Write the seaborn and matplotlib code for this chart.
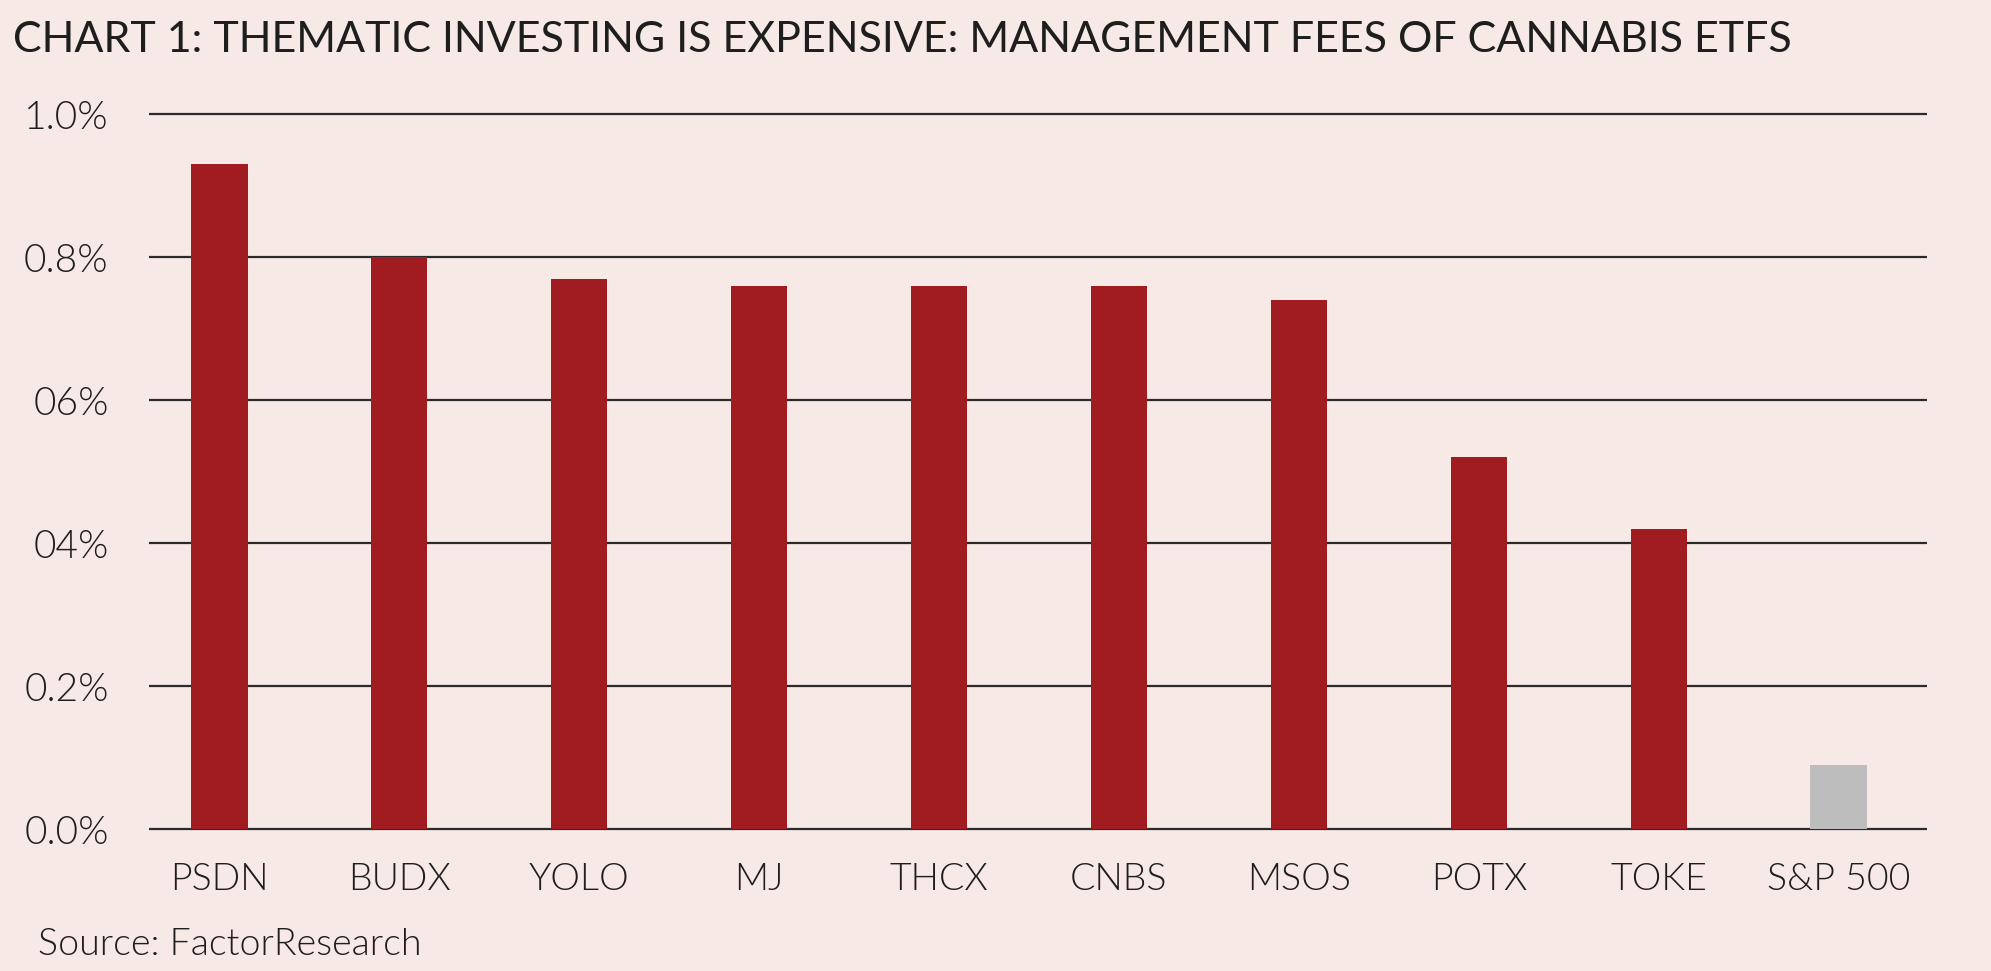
import matplotlib
matplotlib.use("Agg")
import matplotlib.pyplot as plt
import seaborn as sns
import pandas as pd

categories = ["PSDN", "BUDX", "YOLO", "MJ", "THCX", "CNBS", "MSOS", "POTX", "TOKE", "S&P 500"]
fees = [0.93, 0.80, 0.77, 0.76, 0.76, 0.76, 0.74, 0.52, 0.42, 0.09]
ytick_values = [0.0, 0.2, 0.4, 0.6, 0.8, 1.0]
ytick_labels = ["0.0%", "0.2%", "04%", "06%", "0.8%", "1.0%"]
title = "CHART 1: THEMATIC INVESTING IS EXPENSIVE: MANAGEMENT FEES OF CANNABIS ETFS"
source = "Source: FactorResearch"

BG = "#F6E9E6"
RED = "#A01C21"
GREY = "#BDBDBD"
TXT = "#1E1E1E"

sns.set_theme(style="white")
plt.rcParams['font.family'] = ['Lato', 'DejaVu Sans']

df = pd.DataFrame({"etf": categories, "fee": fees})
palette = [RED] * (len(categories) - 1) + [GREY]

fig = plt.figure(figsize=(19.91, 9.71), dpi=100, facecolor=BG)
ax = fig.add_axes([149 / 1991, 1 - 832.6 / 971, (1927 - 149) / 1991, 722 / 971])
ax.set_facecolor(BG)

sns.barplot(data=df, x="etf", y="fee", hue="etf", palette=palette, legend=False,
            width=0.315, saturation=1, ax=ax, zorder=3, linewidth=0, edgecolor="none")

ax.set_xlim(-0.39, 9.49)
ax.set_ylim(-0.005, 1.005)
ax.set_yticks(ytick_values)
ax.set_yticklabels(ytick_labels)
ax.yaxis.grid(True, color="#2B2B2B", linewidth=1.6, zorder=0)
ax.xaxis.grid(False)
ax.set_axisbelow(True)
for s in ax.spines.values():
    s.set_visible(False)
ax.tick_params(axis="y", length=0, pad=29, labelsize=28, labelcolor=TXT)
ax.tick_params(axis="x", length=0, pad=22, labelsize=27, labelcolor=TXT)
for lab in ax.get_yticklabels() + ax.get_xticklabels():
    lab.set_fontweight(300)
ax.set_xlabel("")
ax.set_ylabel("")

fig.text(13 / 1991, 1 - 52 / 971, title, fontsize=31, color=TXT, va="baseline", ha="left")
fig.text(38 / 1991, 1 - 955 / 971, source, fontsize=27, color=TXT, va="baseline", ha="left",
         fontweight=300)

fig.savefig("out.png", dpi=100, facecolor=BG)
